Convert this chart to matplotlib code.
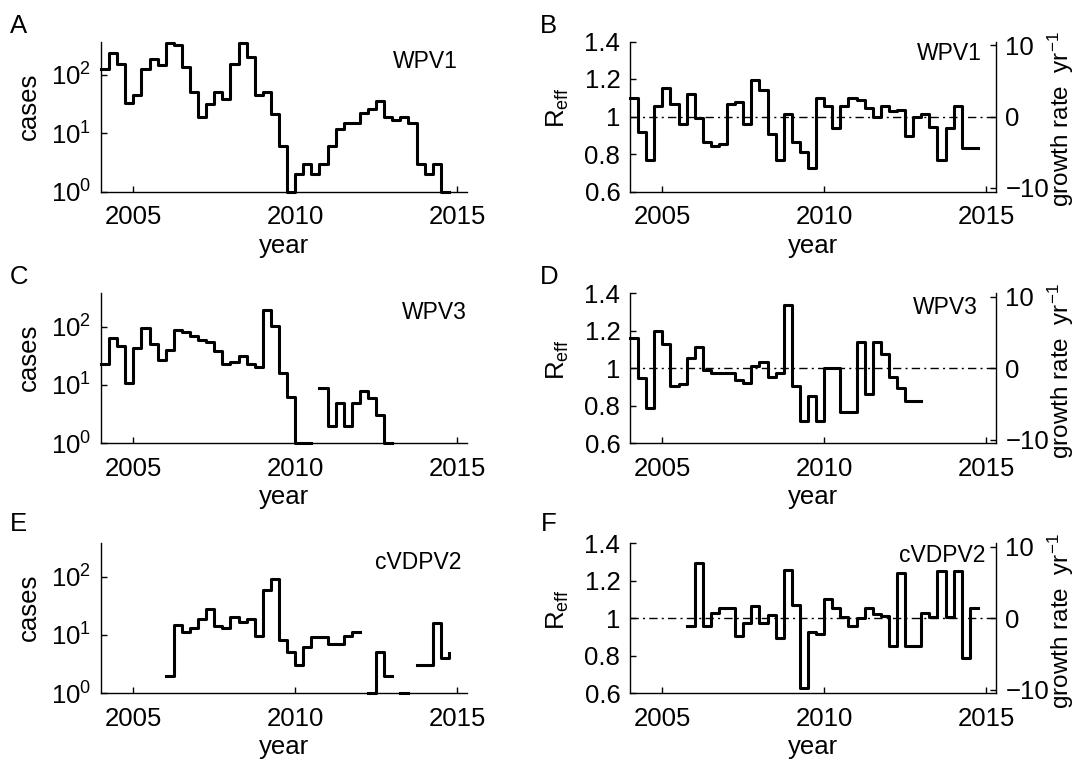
import numpy as np
import matplotlib
matplotlib.use('Agg')
import matplotlib.pyplot as plt
from matplotlib.ticker import NullLocator

plt.rcParams['font.family'] = ['Liberation Sans', 'DejaVu Sans']
plt.rcParams['mathtext.default'] = 'regular'

# quarterly values (nan = no data)
# each list starts at its *_start year, one value per quarter, last value is the end point
wpv1_start = 2004.0
wpv1_cases = [126, 235, 154, 33, 45, 126, 186, 148, 350, 326, 135, 50, 19, 31, 50, 38,
              154, 350, 200, 45, 50, 21, 6, 1, 2, 3, 2, 3, 6, 12, 15, 15,
              22, 26, 36, 19, 17, 19, 15, 3, 2, 3, 1, 1]
wpv1_reff = [1.10, 0.915, 0.77, 1.057, 1.15, 1.065, 0.96, 1.12, 0.99, 0.864, 0.843, 0.853,
             1.065, 1.08, 0.96, 1.193, 1.14, 0.906, 0.768, 1.012, 0.862, 0.809, 0.726, 1.097,
             1.055, 0.938, 1.055, 1.097, 1.087, 1.044, 1.0, 1.055, 1.027, 1.034, 0.897, 0.995,
             1.012, 0.945, 0.768, 0.938, 1.055, 0.832, 0.832, 0.832]

wpv3_start = 2004.0
wpv3_cases = [23, 64, 47, 11, 43, 95, 50, 27, 40, 88, 82, 69, 59, 55, 38, 23,
              25, 31, 23, 20, 192, 101, 16, 6.2, 1, 1, np.nan, 9, 2, 5, 2, 5,
              8, 6, 3, 1, 1]
wpv3_reff = [1.16, 0.947, 0.788, 1.20, 1.127, 0.903, 0.915, 1.053, 1.115, 0.991, 0.977, 0.977,
             0.977, 0.938, 0.924, 1.011, 1.034, 0.956, 0.977, 1.34, 0.903, 0.72, 0.851, 0.72,
             1.0, 1.0, 0.765, 0.765, 1.14, 0.862, 1.14, 1.074, 0.956, 0.894, 0.827, 0.827, 0.827]

cvdpv2_start = 2006.0
cvdpv2_cases = [2, 14.7, 11.4, 13.4, 18.9, 28, 14.5, 13.4, 20.4, 16.9, 18.9, 9.7,
                58, 90, 8.3, 5.2, 3, 6.2, 9.2, 9.2, 7.1, 7.1, 9.7, 11.4,
                np.nan, 1, 5.2, 2, np.nan, 1, np.nan, 3.1, 3.1, 16.3, 4.1, 4.9]
cvdpv2_reff_start = 2005.75
cvdpv2_reff = [0.961, 1.293, 0.961, 1.027, 1.057, 1.057, 0.906, 0.973, 1.068, 0.973, 1.018, 0.893,
               1.258, 1.071, 0.63, 0.929, 0.916, 1.101, 1.057, 1.005, 0.961, 1.0, 1.057, 1.021,
               1.012, 0.851, 1.24, 0.851, 0.851, 1.03, 1.005, 1.25, 1.005, 1.25, 0.787, 1.057, 1.057]

FS = 18.5
NAME_FS = 16.5


def style_x(ax):
    ax.set_xlim(2004, 2015.3)
    ax.set_xticks([2005, 2010, 2015])
    ax.tick_params(axis='x', direction='in', length=4, width=1, labelsize=FS, pad=10)
    ax.tick_params(axis='y', direction='in', length=4, width=1, labelsize=FS, pad=7)
    ax.spines['top'].set_visible(False)
    ax.spines['right'].set_visible(False)
    for s in ax.spines.values():
        s.set_linewidth(1)
    ax.set_xlabel('year', fontsize=FS)
    ax.xaxis.set_label_coords(0.5, -0.28)


def cases_panel(ax, start, vals, name, tx, ty):
    x = start + 0.25 * np.arange(len(vals))
    ax.step(x, vals, where='post', color='k', lw=2.2, clip_on=False)
    ax.set_yscale('log')
    ax.set_ylim(1, 10 ** 2.57)
    ax.set_yticks([1, 10, 100])
    ax.yaxis.set_minor_locator(NullLocator())
    style_x(ax)
    ax.set_ylabel('cases', fontsize=FS)
    ax.yaxis.set_label_coords(-0.165, 0.57)
    ax.text(tx, ty, name, transform=ax.transAxes, ha='right', va='center', fontsize=NAME_FS)


def reff_panel(ax, start, vals, name, tx, ty):
    x = start + 0.25 * np.arange(len(vals))
    ax.axhline(1, color='k', lw=1, ls=(0, (6, 3, 1.5, 3)))
    ax.step(x, vals, where='post', color='k', lw=2.2, clip_on=False)
    ax.set_ylim(0.6, 1.4)
    ax.set_yticks([0.6, 0.8, 1.0, 1.2, 1.4])
    ax.set_yticklabels(['0.6', '0.8', '1', '1.2', '1.4'])
    style_x(ax)
    ax.set_ylabel('R$_{eff}$', fontsize=FS)
    ax.yaxis.set_label_coords(-0.16, 0.56)
    ax.text(tx, ty, name, transform=ax.transAxes, ha='right', va='center', fontsize=NAME_FS)

    ax2 = ax.twinx()
    ax2.set_ylim(-10.5, 10.5)
    ax2.set_yticks([-10, 0, 10])
    ax2.tick_params(axis='y', direction='in', length=4, width=1, labelsize=FS, pad=7)
    for side in ['top', 'left', 'bottom']:
        ax2.spines[side].set_visible(False)
    ax2.spines['right'].set_linewidth(1)
    ax2.set_ylabel('growth rate  yr$^{-1}$', fontsize=17.5)
    ax2.yaxis.set_label_coords(1.136, 0.48)


fig = plt.figure(figsize=(10.78, 7.61), dpi=100)
W, H = 1078, 761
lefts = [101 / W, 630 / W]
bottoms = [(H - 191.5) / H, (H - 443.3) / H, (H - 693.3) / H]
w, h = 365.7 / W, 150 / H

axA = fig.add_axes([lefts[0], bottoms[0], w, h])
axB = fig.add_axes([lefts[1], bottoms[0], w, h])
axC = fig.add_axes([lefts[0], bottoms[1], w, h])
axD = fig.add_axes([lefts[1], bottoms[1], w, h])
axE = fig.add_axes([lefts[0], bottoms[2], w, h])
axF = fig.add_axes([lefts[1], bottoms[2], w, h])

cases_panel(axA, wpv1_start, wpv1_cases, 'WPV1', 0.976, 0.867)
reff_panel(axB, wpv1_start, wpv1_reff, 'WPV1', 0.962, 0.918)
cases_panel(axC, wpv3_start, wpv3_cases, 'WPV3', 1.0, 0.874)
reff_panel(axD, wpv3_start, wpv3_reff, 'WPV3', 0.952, 0.905)
cases_panel(axE, cvdpv2_start, cvdpv2_cases, 'cVDPV2', 0.986, 0.872)
reff_panel(axF, cvdpv2_reff_start, cvdpv2_reff, 'cVDPV2', 0.971, 0.922)

panel_letters = ['A', 'B', 'C', 'D', 'E', 'F']
letter_pos = [(10, 33), (540, 33), (10, 284), (540, 284), (10, 531), (541, 531)]
for lab, (px, py) in zip(panel_letters, letter_pos):
    fig.text(px / W, 1 - py / H, lab, fontsize=FS, ha='left', va='baseline')

fig.savefig('out.png', dpi=100)
